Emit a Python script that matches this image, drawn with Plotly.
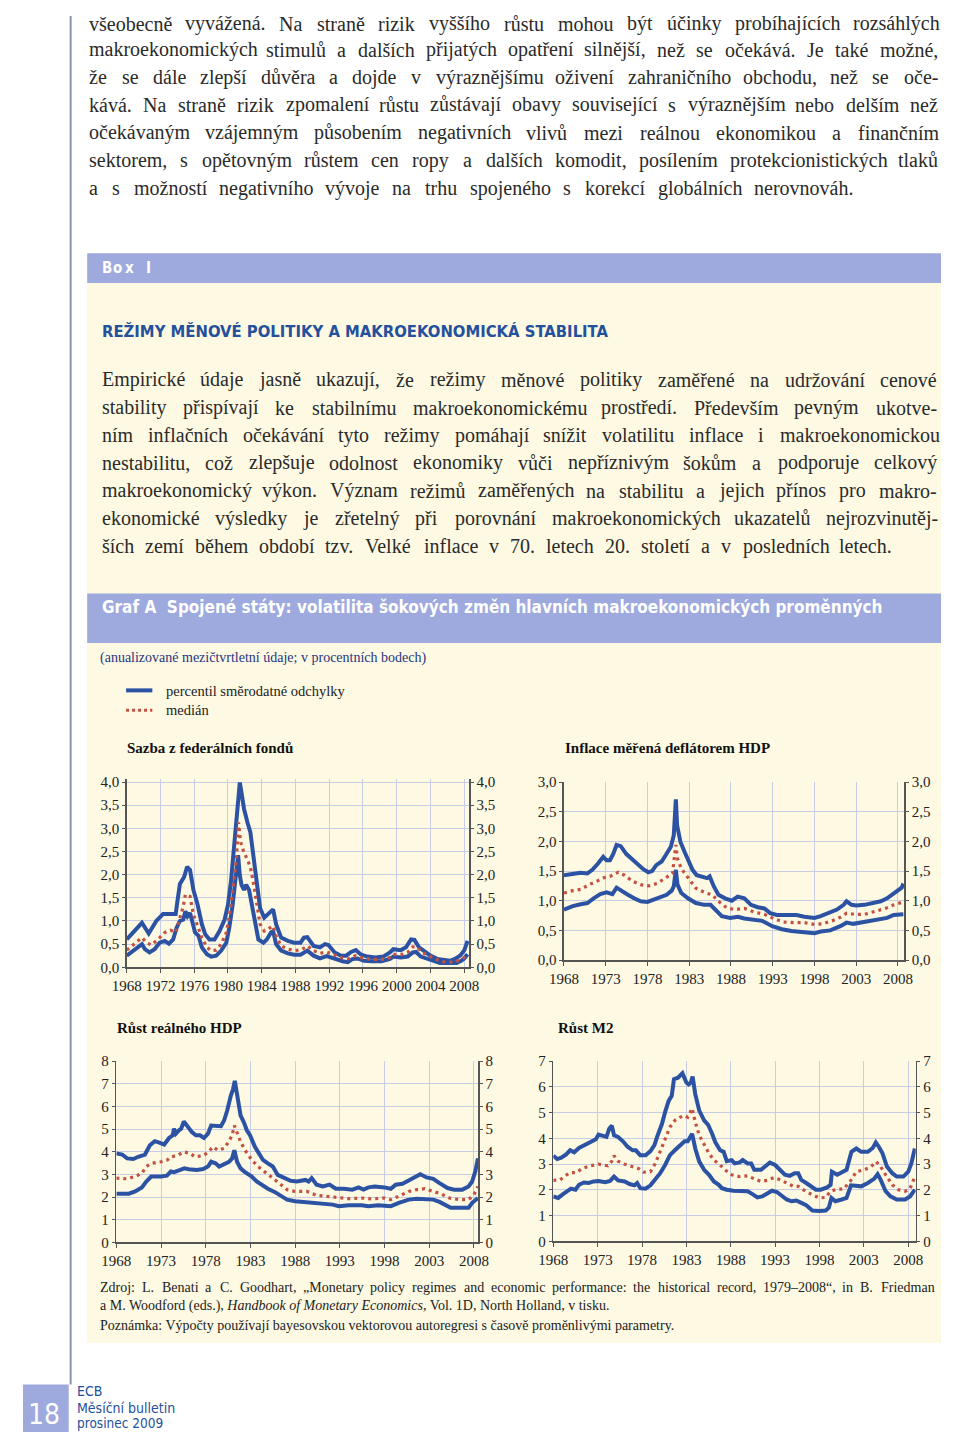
import unicodedata
import plotly.graph_objects as go

# Page is 960x1448; the browser keeps its default 8px body margin,
# so the figure is 944x1432 and sits at (8, 8) in page pixels.
# Everything is kept inside the figure so the page never overflows.
PW, PH = 960, 1448
OX, OY = 8, 8
FW, FH = PW - 2 * OX, PH - 2 * OY
XMAX, YMAX = PW - OX, PH - OY

SERIF = "Liberation Serif, Times New Roman, serif"
COND = "DejaVu Sans Condensed, Liberation Sans Narrow, Arial Narrow, sans-serif"
BLUE = "#2b52a3"
RED = "#c4513f"
GRID = "#c8cde6"
AXC = "#555555"
TXT = "#222222"
BODY = "#2a2a2a"
CREAM = "#fdf9e3"
BAND = "#9ea9dd"
DARKBLUE = "#24509c"

# ---------------- DATA ----------------
# Chart 1: Sazba z federálních fondů
ff_up_x = [1968.0, 1969.8, 1970.6, 1971.5, 1972.3, 1973.8, 1974.0, 1974.3, 1974.8, 1975.15, 1975.5, 1975.9, 1976.4,
           1976.9, 1977.3, 1977.8, 1978.4, 1979.0, 1979.6, 1980.0, 1980.35, 1980.7, 1980.9, 1981.2, 1981.4, 1981.6,
           1981.9, 1982.3, 1982.65, 1983.05, 1983.4, 1983.8, 1984.3, 1984.8, 1985.35, 1985.7, 1986.3, 1987.1, 1987.85,
           1988.6, 1989.0, 1989.4, 1990.15, 1990.9, 1991.5, 1991.9, 1992.65, 1993.4, 1994.0, 1994.6, 1995.15, 1995.7,
           1996.5, 1997.5, 1998.4, 1999.2, 1999.6, 2000.5, 2001.1, 2001.7, 2002.1, 2002.65, 2003.4, 2004.0, 2004.8,
           2005.5, 2006.3, 2006.9, 2007.5, 2008.0, 2008.4]
ff_up_y = [0.60, 0.96, 0.73, 1.00, 1.15, 1.15, 1.42, 1.80, 1.95, 2.17, 2.10, 1.67, 1.35,
           0.93, 0.71, 0.60, 0.60, 0.78, 1.03, 1.35, 1.85, 2.53, 3.06, 3.63, 3.99, 3.77,
           3.42, 3.13, 2.92, 2.35, 1.78, 1.28, 1.07, 1.17, 1.25, 0.93, 0.64, 0.57, 0.53,
           0.53, 0.64, 0.65, 0.46, 0.43, 0.50, 0.48, 0.32, 0.25, 0.25, 0.33, 0.37, 0.28,
           0.23, 0.21, 0.23, 0.32, 0.39, 0.37, 0.43, 0.60, 0.59, 0.43, 0.32, 0.25, 0.18,
           0.16, 0.14, 0.18, 0.25, 0.36, 0.57]
ff_lo_x = [1968.0, 1969.0, 1969.8, 1970.15, 1970.7, 1971.3, 1971.9, 1972.5, 1973.0, 1973.5, 1973.9, 1974.3, 1974.7,
           1974.95, 1975.2, 1975.5, 1975.7, 1976.1, 1976.5, 1976.9, 1977.5, 1978.0, 1978.6, 1979.2, 1979.8, 1980.15,
           1980.55, 1980.9, 1981.2, 1981.4, 1981.6, 1981.9, 1982.15, 1982.5, 1982.85, 1983.2, 1983.6, 1984.2, 1984.6,
           1985.1, 1985.35, 1985.7, 1986.3, 1987.1, 1987.85, 1988.6, 1989.4, 1990.15, 1990.9, 1991.7, 1992.65, 1993.6,
           1994.2, 1994.8, 1995.35, 1996.1, 1997.1, 1998.2, 1999.2, 1999.6, 2000.5, 2001.3, 2001.9, 2002.3, 2002.85,
           2003.6, 2004.4, 2005.15, 2006.3, 2007.1, 2007.65, 2008.0, 2008.4]
ff_lo_y = [0.25, 0.39, 0.50, 0.39, 0.32, 0.39, 0.53, 0.57, 0.51, 0.60, 0.85, 1.00, 1.03,
           1.21, 1.10, 1.17, 1.00, 0.75, 0.68, 0.43, 0.28, 0.23, 0.25, 0.36, 0.53, 0.85,
           1.35, 1.92, 2.42, 1.99, 1.78, 1.67, 1.78, 1.67, 1.35, 0.93, 0.60, 0.53, 0.60,
           0.75, 0.78, 0.50, 0.36, 0.30, 0.27, 0.27, 0.36, 0.25, 0.19, 0.24, 0.18, 0.13,
           0.11, 0.18, 0.19, 0.14, 0.13, 0.13, 0.18, 0.23, 0.21, 0.23, 0.32, 0.33, 0.23,
           0.19, 0.14, 0.09, 0.09, 0.09, 0.14, 0.19, 0.28]
ff_md_x = [1968.0, 1968.8, 1969.8, 1970.35, 1970.9, 1971.7, 1972.5, 1973.2, 1973.8, 1974.2, 1974.7, 1974.95, 1975.5,
           1975.9, 1976.4, 1976.9, 1977.5, 1978.0, 1978.6, 1979.2, 1979.8, 1980.2, 1980.6, 1981.0, 1981.25, 1981.5,
           1981.8, 1982.3, 1982.65, 1983.05, 1983.4, 1983.8, 1984.3, 1984.95, 1985.35, 1985.7, 1986.3, 1987.1, 1988.0,
           1988.8, 1989.4, 1990.15, 1990.9, 1991.7, 1992.45, 1993.4, 1994.2, 1995.1, 1995.9, 1997.1, 1998.2, 1999.2,
           1999.6, 2000.7, 2001.3, 2001.9, 2002.45, 2003.0, 2003.8, 2004.8, 2005.5, 2006.7, 2007.5, 2008.0, 2008.4]
ff_md_y = [0.37, 0.50, 0.64, 0.53, 0.48, 0.60, 0.75, 0.80, 0.75, 1.00, 1.32, 1.57, 1.53,
           1.14, 0.89, 0.64, 0.43, 0.36, 0.37, 0.50, 0.75, 1.14, 1.71, 2.35, 3.13, 2.70,
           2.53, 2.31, 2.17, 1.78, 1.35, 0.93, 0.78, 0.85, 0.89, 0.68, 0.46, 0.39, 0.36,
           0.39, 0.46, 0.36, 0.30, 0.33, 0.28, 0.21, 0.18, 0.25, 0.20, 0.17, 0.17, 0.21,
           0.28, 0.28, 0.32, 0.44, 0.43, 0.32, 0.25, 0.16, 0.12, 0.11, 0.16, 0.21, 0.28]

# Chart 2: Inflace měřená deflátorem HDP
in_up_x = [1968.0, 1969.05, 1970.0, 1970.8, 1971.4, 1972.1, 1972.7, 1973.1, 1973.5, 1973.9, 1974.3, 1974.8, 1975.45,
           1976.0, 1976.8, 1977.5, 1978.1, 1978.55, 1979.05, 1979.7, 1980.2, 1980.8, 1981.15, 1981.4, 1981.55, 1981.95,
           1982.45, 1982.95, 1983.4, 1983.9, 1984.6, 1985.15, 1985.45, 1985.95, 1986.5, 1987.3, 1988.1, 1988.8, 1989.6,
           1990.4, 1991.2, 1992.0, 1992.7, 1993.5, 1994.7, 1995.85, 1996.8, 1998.0, 1998.75, 1999.7, 2000.7, 2001.5,
           2001.85, 2002.45, 2003.0, 2004.0, 2004.95, 2005.95, 2006.7, 2007.5, 2008.05, 2008.45, 2008.65]
in_up_y = [1.43, 1.46, 1.47, 1.46, 1.52, 1.63, 1.74, 1.68, 1.68, 1.79, 1.94, 1.92, 1.79,
           1.72, 1.61, 1.53, 1.48, 1.50, 1.60, 1.66, 1.77, 1.91, 2.10, 2.71, 2.27, 1.99,
           1.82, 1.66, 1.52, 1.43, 1.41, 1.38, 1.41, 1.24, 1.10, 1.04, 1.00, 1.07, 1.04,
           0.93, 0.89, 0.87, 0.79, 0.76, 0.76, 0.76, 0.73, 0.71, 0.74, 0.79, 0.85, 0.93,
           0.99, 0.93, 0.92, 0.93, 0.96, 0.99, 1.04, 1.13, 1.18, 1.22, 1.29]
in_lo_x = [1968.0, 1969.05, 1970.0, 1970.8, 1971.55, 1972.35, 1973.1, 1973.8, 1974.3, 1974.9, 1975.65, 1976.4, 1977.2,
           1978.0, 1978.75, 1979.55, 1980.3, 1980.9, 1981.15, 1981.4, 1981.6, 1982.05, 1982.85, 1983.8, 1984.8, 1985.55,
           1986.15, 1986.9, 1987.9, 1988.85, 1989.6, 1990.8, 1991.75, 1992.95, 1994.1, 1995.25, 1996.4, 1997.6, 1998.0,
           1998.75, 1999.9, 2001.1, 2001.85, 2002.65, 2004.0, 2005.55, 2006.7, 2007.5, 2008.25, 2008.65]
in_lo_y = [0.85, 0.91, 0.94, 0.96, 1.04, 1.11, 1.14, 1.11, 1.22, 1.16, 1.10, 1.04, 0.99,
           0.98, 1.02, 1.07, 1.10, 1.17, 1.24, 1.52, 1.27, 1.13, 1.04, 0.96, 0.93, 0.93,
           0.85, 0.74, 0.71, 0.73, 0.70, 0.68, 0.66, 0.57, 0.52, 0.49, 0.47, 0.46, 0.45,
           0.48, 0.50, 0.57, 0.63, 0.61, 0.64, 0.67, 0.71, 0.76, 0.77, 0.77]
in_md_x = [1968.0, 1969.05, 1970.0, 1971.0, 1971.95, 1972.85, 1973.5, 1974.1, 1974.5, 1975.25, 1976.2, 1977.2, 1978.15,
           1979.15, 1980.1, 1981.0, 1981.4, 1981.6, 1982.05, 1982.85, 1983.8, 1985.0, 1985.75, 1986.5, 1987.5, 1988.45,
           1989.6, 1990.8, 1992.0, 1993.1, 1994.3, 1995.65, 1996.8, 1998.0, 1998.95, 2000.1, 2001.1, 2001.85, 2002.85,
           2004.0, 2005.35, 2006.5, 2007.5, 2008.25, 2008.65]
in_md_y = [1.13, 1.17, 1.19, 1.27, 1.33, 1.39, 1.41, 1.46, 1.48, 1.43, 1.33, 1.27, 1.25,
           1.29, 1.37, 1.46, 1.94, 1.71, 1.54, 1.38, 1.21, 1.13, 1.10, 0.99, 0.88, 0.85,
           0.87, 0.81, 0.77, 0.70, 0.64, 0.63, 0.63, 0.60, 0.61, 0.66, 0.72, 0.79, 0.77,
           0.77, 0.82, 0.87, 0.93, 0.96, 0.98]

# Chart 3: Růst reálného HDP
gdp_up_x = [1968.0, 1968.65, 1969.2, 1969.9, 1970.45, 1971.2, 1971.75, 1972.3, 1972.8, 1973.35, 1973.9, 1974.3, 1974.45,
            1974.65, 1975.0, 1975.25, 1975.55, 1975.9, 1976.45, 1976.9, 1977.35, 1977.8, 1978.25, 1978.6, 1979.15,
            1979.7, 1980.05, 1980.4, 1980.8, 1981.05, 1981.25, 1981.5, 1981.9, 1982.25, 1982.6, 1982.95, 1983.5,
            1983.95, 1984.4, 1984.95, 1985.5, 1986.05, 1986.75, 1987.5, 1988.2, 1989.15, 1989.5, 1989.85, 1990.4,
            1991.1, 1991.85, 1992.55, 1993.45, 1994.4, 1995.1, 1995.65, 1996.2, 1996.9, 1998.0, 1998.7, 1999.25,
            2000.0, 2000.7, 2001.45, 2002.0, 2002.7, 2003.45, 2004.15, 2005.05, 2005.8, 2006.7, 2007.4, 2007.8,
            2008.15, 2008.45]
gdp_up_y = [3.93, 3.88, 3.71, 3.68, 3.78, 3.88, 4.29, 4.47, 4.41, 4.32, 4.61, 4.73, 5.02,
            4.80, 4.95, 5.02, 5.34, 5.13, 4.87, 4.73, 4.73, 4.61, 4.80, 5.16, 5.16,
            5.13, 5.38, 5.82, 6.47, 6.76, 7.13, 6.55, 5.60, 5.31, 4.95, 4.73, 4.22,
            3.93, 3.64, 3.49, 3.35, 2.98, 2.84, 2.72, 2.69, 2.76, 2.69, 2.84, 2.55,
            2.47, 2.55, 2.37, 2.37, 2.33, 2.43, 2.33, 2.43, 2.47, 2.43, 2.37, 2.55,
            2.59, 2.73, 2.91, 3.01, 2.87, 2.81, 2.62, 2.40, 2.33, 2.33, 2.47, 2.69,
            3.13, 3.71]
gdp_lo_x = [1968.0, 1969.4, 1970.1, 1970.85, 1971.35, 1971.9, 1973.0, 1973.65, 1974.1, 1974.45, 1975.15, 1975.6, 1976.1,
            1977.0, 1977.7, 1978.25, 1978.6, 1979.1, 1979.5, 1980.05, 1980.6, 1980.95, 1981.2, 1981.5, 1981.9, 1982.4,
            1983.15, 1983.7, 1984.2, 1984.95, 1985.7, 1986.4, 1987.1, 1988.0, 1988.95, 1990.0, 1991.1, 1992.2, 1992.9,
            1994.0, 1995.45, 1996.2, 1997.3, 1998.2, 1998.7, 1999.6, 2000.7, 2001.6, 2002.5, 2003.45, 2004.15, 2004.9,
            2005.4, 2006.7, 2007.4, 2007.8, 2008.45]
gdp_lo_y = [2.15, 2.15, 2.25, 2.43, 2.69, 2.91, 2.91, 2.95, 3.13, 3.10, 3.20, 3.27, 3.23,
            3.20, 3.24, 3.35, 3.56, 3.49, 3.35, 3.45, 3.56, 3.71, 4.07, 3.56, 3.27, 3.10,
            2.91, 2.69, 2.55, 2.37, 2.23, 2.04, 1.89, 1.82, 1.79, 1.75, 1.70, 1.67, 1.60,
            1.64, 1.64, 1.60, 1.64, 1.64, 1.60, 1.75, 1.89, 1.93, 1.92, 1.89, 1.79, 1.64,
            1.53, 1.53, 1.53, 1.75, 1.96]
gdp_md_x = [1968.0, 1969.2, 1970.1, 1970.85, 1971.35, 1971.9, 1973.0, 1973.7, 1974.1, 1974.8, 1975.55, 1976.25, 1976.8,
            1977.7, 1978.25, 1978.8, 1979.35, 1980.05, 1980.6, 1980.95, 1981.2, 1981.5, 1981.9, 1982.4, 1983.15,
            1983.85, 1984.6, 1985.3, 1986.2, 1987.1, 1988.0, 1989.3, 1990.4, 1991.5, 1992.55, 1994.0, 1995.45, 1996.55,
            1998.0, 1998.7, 1999.6, 2000.7, 2001.6, 2002.5, 2003.45, 2004.35, 2005.25, 2006.35, 2007.4, 2008.0, 2008.45]
gdp_md_y = [2.84, 2.81, 2.91, 3.05, 3.35, 3.49, 3.56, 3.64, 3.78, 3.83, 4.00, 3.93, 3.78,
            3.83, 3.97, 4.22, 4.07, 4.15, 4.47, 4.73, 5.16, 4.87, 4.44, 4.07, 3.64,
            3.35, 3.13, 2.91, 2.62, 2.33, 2.25, 2.25, 2.08, 2.04, 1.99, 1.93, 1.96, 1.92,
            1.96, 1.89, 2.04, 2.25, 2.33, 2.37, 2.25, 2.14, 1.96, 1.89, 1.89, 2.11, 2.47]

# Chart 4: Růst M2
m2_up_x = [1968.0, 1968.45, 1968.9, 1969.45, 1969.9, 1970.35, 1970.9, 1971.65, 1972.2, 1972.8, 1973.1, 1973.65, 1974.0,
           1974.3, 1974.6, 1974.85, 1975.3, 1975.85, 1976.4, 1976.95, 1977.3, 1977.8, 1978.4, 1978.95, 1979.4, 1979.7,
           1980.25, 1980.6, 1981.0, 1981.35, 1981.6, 1982.05, 1982.55, 1983.0, 1983.25, 1983.5, 1983.7, 1984.0,
           1984.45, 1985.0, 1985.45, 1985.9, 1986.25, 1986.8, 1987.2, 1987.55, 1988.1, 1988.45, 1989.0, 1989.35,
           1989.9, 1990.3, 1990.65, 1991.4, 1991.9, 1992.4, 1993.0, 1993.6, 1994.1, 1994.65, 1995.2, 1995.6, 1995.95,
           1996.5, 1997.05, 1997.6, 1998.15, 1998.85, 1999.25, 1999.4, 2000.0, 2000.7, 2001.05, 2001.6, 2002.15,
           2002.7, 2003.45, 2004.0, 2004.35, 2004.7, 2005.1, 2005.6, 2006.2, 2006.7, 2007.45, 2008.0, 2008.35, 2008.75]
m2_up_y = [3.33, 3.20, 3.25, 3.38, 3.54, 3.46, 3.63, 3.76, 3.84, 3.97, 4.15, 4.10, 4.06,
           4.38, 4.50, 4.12, 4.06, 3.89, 3.67, 3.54, 3.54, 3.35, 3.35, 3.51, 3.74, 4.06,
           4.57, 5.02, 5.46, 5.66, 6.30, 6.36, 6.53, 6.17, 6.10, 6.17, 6.40, 5.72,
           5.08, 4.70, 4.53, 4.18, 3.86, 3.54, 3.48, 3.12, 3.16, 3.03, 3.07, 3.16,
           3.03, 3.03, 2.78, 2.78, 2.94, 3.06, 2.97, 2.78, 2.59, 2.55, 2.65, 2.65, 2.39,
           2.27, 2.14, 2.01, 2.01, 2.10, 2.20, 2.71, 2.59, 2.69, 2.78, 3.48, 3.61,
           3.48, 3.48, 3.63, 3.84, 3.67, 3.42, 2.91, 2.65, 2.52, 2.52, 2.71, 3.03, 3.61]
m2_lo_x = [1968.0, 1968.55, 1969.1, 1969.65, 1970.0, 1970.5, 1970.9, 1971.45, 1972.0, 1972.55, 1973.1, 1973.85, 1974.4,
           1974.85, 1975.3, 1976.05, 1976.6, 1977.15, 1977.45, 1977.8, 1978.4, 1978.95, 1979.5, 1980.05, 1980.6,
           1981.15, 1981.7, 1982.25, 1982.8, 1983.15, 1983.65, 1984.0, 1984.45, 1985.0, 1985.55, 1986.1, 1986.65,
           1987.0, 1987.55, 1988.3, 1989.2, 1989.9, 1990.45, 1991.0, 1991.55, 1992.1, 1992.65, 1993.2, 1993.75,
           1994.3, 1994.85, 1995.4, 1995.95, 1996.5, 1997.2, 1997.95, 1998.7, 1999.05, 1999.35, 1999.8, 2000.5,
           2001.05, 2001.55, 2002.15, 2002.7, 2003.45, 2004.15, 2004.55, 2004.9, 2005.45, 2006.0, 2006.7, 2007.65,
           2008.2, 2008.75]
m2_lo_y = [1.75, 1.69, 1.84, 1.95, 2.05, 2.01, 2.20, 2.29, 2.27, 2.33, 2.35, 2.30, 2.35,
           2.52, 2.37, 2.33, 2.23, 2.18, 2.27, 2.07, 2.05, 2.18, 2.39, 2.65, 2.97,
           3.35, 3.54, 3.74, 3.89, 3.89, 4.18, 3.61, 3.10, 2.78, 2.59, 2.33, 2.20,
           2.07, 2.01, 1.97, 1.95, 1.95, 1.84, 1.71, 1.75, 1.88, 1.97, 1.92, 1.79,
           1.63, 1.56, 1.59, 1.50, 1.41, 1.20, 1.18, 1.20, 1.31, 1.69, 1.56, 1.63,
           1.69, 2.18, 2.14, 2.14, 2.27, 2.43, 2.61, 2.39, 1.95, 1.75, 1.63, 1.63,
           1.75, 2.01]
m2_md_x = [1968.0, 1968.75, 1969.85, 1970.55, 1971.3, 1972.2, 1973.1, 1973.65, 1974.15, 1974.6, 1974.85, 1975.3,
           1976.05, 1976.95, 1977.7, 1978.2, 1978.95, 1979.5, 1980.05, 1980.6, 1981.15, 1981.7, 1982.25, 1982.8,
           1983.15, 1983.65, 1984.0, 1984.45, 1985.0, 1985.55, 1986.1, 1986.8, 1987.35, 1988.1, 1989.0, 1989.9,
           1990.65, 1991.4, 1992.1, 1992.85, 1993.6, 1994.3, 1995.05, 1995.6, 1996.15, 1997.05, 1997.95, 1998.7,
           1999.25, 2000.0, 2000.7, 2001.45, 2002.15, 2003.05, 2003.8, 2004.4, 2004.9, 2005.45, 2006.2, 2006.9,
           2007.65, 2008.2, 2008.75]
m2_md_y = [2.37, 2.39, 2.67, 2.67, 2.84, 2.94, 3.00, 2.97, 2.94, 3.12, 3.33, 3.12,
           3.00, 2.90, 2.82, 2.69, 2.71, 3.03, 3.48, 3.99, 4.44, 4.70, 4.82, 4.89,
           4.82, 5.17, 4.63, 4.12, 3.74, 3.42, 3.16, 2.97, 2.78, 2.59, 2.52, 2.55,
           2.43, 2.33, 2.37, 2.48, 2.39, 2.27, 2.14, 2.14, 2.01, 1.84, 1.69, 1.71,
           1.95, 2.03, 2.03, 2.33, 2.71, 2.78, 2.90, 3.10, 2.90, 2.59, 2.20, 2.01,
           1.95, 2.05, 2.52]

# Tick values / labels
ff_yticks = [0.0, 0.5, 1.0, 1.5, 2.0, 2.5, 3.0, 3.5, 4.0]
ff_yticktext = ["0,0", "0,5", "1,0", "1,5", "2,0", "2,5", "3,0", "3,5", "4,0"]
in_yticks = [0.0, 0.5, 1.0, 1.5, 2.0, 2.5, 3.0]
in_yticktext = ["0,0", "0,5", "1,0", "1,5", "2,0", "2,5", "3,0"]
gdp_yticks = [0, 1, 2, 3, 4, 5, 6, 7, 8]
gdp_yticktext = ["0", "1", "2", "3", "4", "5", "6", "7", "8"]
m2_yticks = [0, 1, 2, 3, 4, 5, 6, 7]
m2_yticktext = ["0", "1", "2", "3", "4", "5", "6", "7"]
ff_xticks = [1968, 1972, 1976, 1980, 1984, 1988, 1992, 1996, 2000, 2004, 2008]
other_xticks = [1968, 1973, 1978, 1983, 1988, 1993, 1998, 2003, 2008]

chart_titles = ["Sazba z federálních fondů", "Inflace měřená deflátorem HDP", "Růst reálného HDP", "Růst M2"]
legend_labels = ["percentil směrodatné odchylky", "medián"]

para1 = [
    "všeobecně vyvážená. Na straně rizik vyššího růstu mohou být účinky probíhajících rozsáhlých",
    "makroekonomických stimulů a dalších přijatých opatření silnější, než se očekává. Je také možné,",
    "že se dále zlepší důvěra a dojde v výraznějšímu oživení zahraničního obchodu, než se oče-",
    "kává. Na straně rizik zpomalení růstu zůstávají obavy související s výraznějším nebo delším než",
    "očekávaným vzájemným působením negativních vlivů mezi reálnou ekonomikou a finančním",
    "sektorem, s opětovným růstem cen ropy a dalších komodit, posílením protekcionistických tlaků",
    "a s možností negativního vývoje na trhu spojeného s korekcí globálních nerovnováh.",
]
para2 = [
    "Empirické údaje jasně ukazují, že režimy měnové politiky zaměřené na udržování cenové",
    "stability přispívají ke stabilnímu makroekonomickému prostředí. Především pevným ukotve-",
    "ním inflačních očekávání tyto režimy pomáhají snížit volatilitu inflace i makroekonomickou",
    "nestabilitu, což zlepšuje odolnost ekonomiky vůči nepříznivým šokům a podporuje celkový",
    "makroekonomický výkon. Význam režimů zaměřených na stabilitu a jejich přínos pro makro-",
    "ekonomické výsledky je zřetelný při porovnání makroekonomických ukazatelů nejrozvinutěj-",
    "ších zemí během období tzv. Velké inflace v 70. letech 20. století a v posledních letech.",
]

# ---------------- helpers ----------------
TIMES = {' ': 250, '!': 333, '"': 408, "'": 180, '(': 333, ')': 333, ',': 250, '-': 333, '.': 250, '/': 278,
         ':': 278, ';': 278, '?': 444, '–': 500, '„': 444, '“': 444,
         'A': 722, 'B': 667, 'C': 667, 'D': 722, 'E': 611, 'F': 556, 'G': 722, 'H': 722, 'I': 333, 'J': 389,
         'K': 722, 'L': 611, 'M': 889, 'N': 722, 'O': 722, 'P': 556, 'Q': 722, 'R': 667, 'S': 556, 'T': 611,
         'U': 722, 'V': 722, 'W': 944, 'X': 722, 'Y': 722, 'Z': 611,
         'a': 444, 'b': 500, 'c': 444, 'd': 500, 'e': 444, 'f': 333, 'g': 500, 'h': 500, 'i': 278, 'j': 278,
         'k': 500, 'l': 278, 'm': 778, 'n': 500, 'o': 500, 'p': 500, 'q': 500, 'r': 333, 's': 389, 't': 278,
         'u': 500, 'v': 500, 'w': 722, 'x': 500, 'y': 500, 'z': 444}


def text_width(s, size):
    w = 0
    for ch in s:
        base = unicodedata.normalize('NFD', ch)[0]
        w += TIMES.get(base, 500)
    return w * size / 1000.0


annotations = []
shapes = []


def clampx(x):
    return min(max(x, OX), XMAX)


def clampy(y):
    return min(max(y, OY), YMAX)


def px(x):
    return (x - OX) / FW


def py(y):
    return 1 - (y - OY) / FH


def txt(s, x, y, size, color=TXT, family=SERIF, xanchor='left', yanchor='middle'):
    annotations.append(dict(text=s, x=px(x), y=py(y), xref='paper', yref='paper', xanchor=xanchor,
                            yanchor=yanchor, showarrow=False, borderpad=0,
                            font=dict(family=family, size=size, color=color)))


def justified(line, x0, x1, yc, size, color=BODY):
    words = line.split(' ')
    widths = [text_width(w, size) for w in words]
    gap = (x1 - x0 - sum(widths)) / (len(words) - 1) if len(words) > 1 else 0
    x = x0
    for wd, ww in zip(words, widths):
        txt(wd, x, yc, size, color)
        x += ww + gap


def rect(x0, y0, x1, y1, color):
    shapes.append(dict(type='rect', xref='paper', yref='paper',
                       x0=px(clampx(x0)), x1=px(clampx(x1)), y0=py(clampy(y1)), y1=py(clampy(y0)),
                       fillcolor=color, line=dict(width=0), layer='below'))


def hline(x0, x1, y, color, width, dash='solid'):
    shapes.append(dict(type='line', xref='paper', yref='paper', x0=px(x0), x1=px(x1), y0=py(y), y1=py(y),
                       line=dict(color=color, width=width, dash=dash)))


# ---------------- page decoration ----------------
rect(74, 278, 960, 1350, CREAM)
rect(74, 248, 960, 278, BAND)
rect(74, 592, 960, 642, BAND)
rect(6, 1392, 55, 1448, BAND)
shapes.append(dict(type='line', xref='paper', yref='paper', x0=px(57), x1=px(57), y0=1, y1=py(1392),
                   line=dict(color="#8c95ad", width=2)))

for i, line in enumerate(para1):
    x1 = 858 if i == len(para1) - 1 else 947
    yc = 16 if i == 0 else 14 + 28 * i
    justified(line, 75, x1, yc, 20)

for ch, xx in zip(["B", "o", "x", "I"], [88, 100, 112, 133]):
    txt("<b>" + ch + "</b>", xx, 263, 15, "white", COND)
txt("<b>REŽIMY MĚNOVÉ POLITIKY A MAKROEKONOMICKÁ STABILITA</b>", 88, 327, 16.5, DARKBLUE, COND)

for i, line in enumerate(para2):
    x1 = 899 if i == len(para2) - 1 else 945
    justified(line, 88, x1, 376 + 28 * i, 20)

txt("<b>Graf A  Spojené státy: volatilita šokových změn hlavních makroekonomických proměnných</b>",
    88, 606, 17, "white", COND)
txt("(anualizované mezičtvrtletní údaje; v procentních bodech)", 86, 657, 14, "#1f3580")

hline(114, 141, 690, BLUE, 4)
hline(114, 141, 710, RED, 3, "3px,3px")
txt(legend_labels[0], 154, 691, 14.5)
txt(legend_labels[1], 154, 710, 14.5)

txt("<b>" + chart_titles[0] + "</b>", 114, 748, 15, "#111")
txt("<b>" + chart_titles[1] + "</b>", 564, 748, 15, "#111")
txt("<b>" + chart_titles[2] + "</b>", 104, 1031, 15, "#111")
txt("<b>" + chart_titles[3] + "</b>", 557, 1031, 15, "#111")

justified("Zdroj: L. Benati a C. Goodhart, „Monetary policy regimes and economic performance: the historical "
          "record, 1979–2008“, in B. Friedman", 86, 943, 1294, 14, TXT)
txt("a M. Woodford (eds.), <i>Handbook of Monetary Economics</i>, Vol. 1D, North Holland, v tisku.", 86, 1313, 14)
txt("Poznámka: Výpočty používají bayesovskou vektorovou autoregresi s časově proměnlivými parametry.", 86, 1332, 14)

txt("18", 12, 1440, 28, "white", COND, yanchor='bottom')
txt("ECB", 62, 1399, 14, DARKBLUE, COND)
txt("Měsíční bulletin", 62, 1416, 14, DARKBLUE, COND)
txt("prosinec 2009", 62, 1431, 13.5, DARKBLUE, COND)

# ---------------- charts ----------------
# geometry (page px): x of 1968, x of 2008, right edge, y of 0, y of ymax, ymax, extra px above
geoms = [
    (114.7, 461.7, 466.7, 970.0, 782.7, 4.0, 3.5),
    (564.3, 907.7, 914.3, 962.7, 782.7, 3.0, 0.0),
    (104.0, 471.7, 476.0, 1248.3, 1065.0, 8.0, 0.0),
    (553.3, 918.3, 926.0, 1247.3, 1065.0, 7.0, 0.0),
]
series = [
    (ff_up_x, ff_up_y, ff_lo_x, ff_lo_y, ff_md_x, ff_md_y, ff_yticks, ff_yticktext, ff_xticks),
    (in_up_x, in_up_y, in_lo_x, in_lo_y, in_md_x, in_md_y, in_yticks, in_yticktext, other_xticks),
    (gdp_up_x, gdp_up_y, gdp_lo_x, gdp_lo_y, gdp_md_x, gdp_md_y, gdp_yticks, gdp_yticktext, other_xticks),
    (m2_up_x, m2_up_y, m2_lo_x, m2_lo_y, m2_md_x, m2_md_y, m2_yticks, m2_yticktext, other_xticks),
]

fig = go.Figure()
layout_axes = {}
tickfont = dict(family=SERIF, size=15, color=TXT)
for i, (g, s) in enumerate(zip(geoms, series)):
    n = i + 1
    l, p2008, r, b, t, ymax, extra = g
    upx, upy, lox, loy, mdx, mdy, yt, ytt, xt = s
    xr = 1968 + (r - l) / (p2008 - l) * 40
    ytop = ymax + extra / (b - t) * ymax
    top_px = t - extra
    xname = 'x' if n == 1 else f'x{n}'
    yname = 'y' if n == 1 else f'y{n}'
    yright = f'y{n + 4}'
    layout_axes['xaxis' if n == 1 else f'xaxis{n}'] = dict(
        domain=[px(l), px(r)], range=[1968, xr], anchor=yname, tickmode='array', tickvals=xt,
        ticktext=[str(v) for v in xt], showgrid=True, gridcolor=GRID, gridwidth=1, showline=True,
        linecolor=AXC, linewidth=1.5, ticks='outside', ticklen=4, tickcolor=AXC, tickfont=tickfont,
        zeroline=False, fixedrange=True)
    layout_axes['yaxis' if n == 1 else f'yaxis{n}'] = dict(
        domain=[py(b), py(top_px)], range=[0, ytop], anchor=xname, tickmode='array', tickvals=yt, ticktext=ytt,
        showgrid=True, gridcolor=GRID, gridwidth=1, showline=True, linecolor=AXC, linewidth=1.5,
        ticks='outside', ticklen=3, tickcolor=AXC, tickfont=tickfont, zeroline=False, fixedrange=True)
    layout_axes[f'yaxis{n + 4}'] = dict(
        overlaying=yname, side='right', anchor=xname, range=[0, ytop], tickmode='array', tickvals=yt,
        ticktext=ytt, showgrid=False, showline=True, linecolor=AXC, linewidth=1.5, ticks='outside', ticklen=3,
        tickcolor=AXC, tickfont=tickfont, zeroline=False, fixedrange=True)
    fig.add_trace(go.Scatter(x=upx, y=upy, xaxis=xname, yaxis=yname, mode='lines',
                             line=dict(color=BLUE, width=4), showlegend=False, hoverinfo='skip'))
    fig.add_trace(go.Scatter(x=lox, y=loy, xaxis=xname, yaxis=yname, mode='lines',
                             line=dict(color=BLUE, width=4), showlegend=False, hoverinfo='skip'))
    fig.add_trace(go.Scatter(x=mdx, y=mdy, xaxis=xname, yaxis=yname, mode='lines',
                             line=dict(color=RED, width=3.2, dash="3px,4px"), showlegend=False, hoverinfo='skip'))
    fig.add_trace(go.Scatter(x=[None], y=[None], xaxis=xname, yaxis=yright, mode='lines',
                             showlegend=False, hoverinfo='skip'))

fig.update_layout(
    width=FW, height=FH, autosize=False, margin=dict(l=0, r=0, t=0, b=0),
    paper_bgcolor='white', plot_bgcolor='rgba(0,0,0,0)', showlegend=False,
    annotations=annotations, shapes=shapes, **layout_axes)

fig.write_html("out.html", config={'displayModeBar': False, 'responsive': False, 'staticPlot': True})
